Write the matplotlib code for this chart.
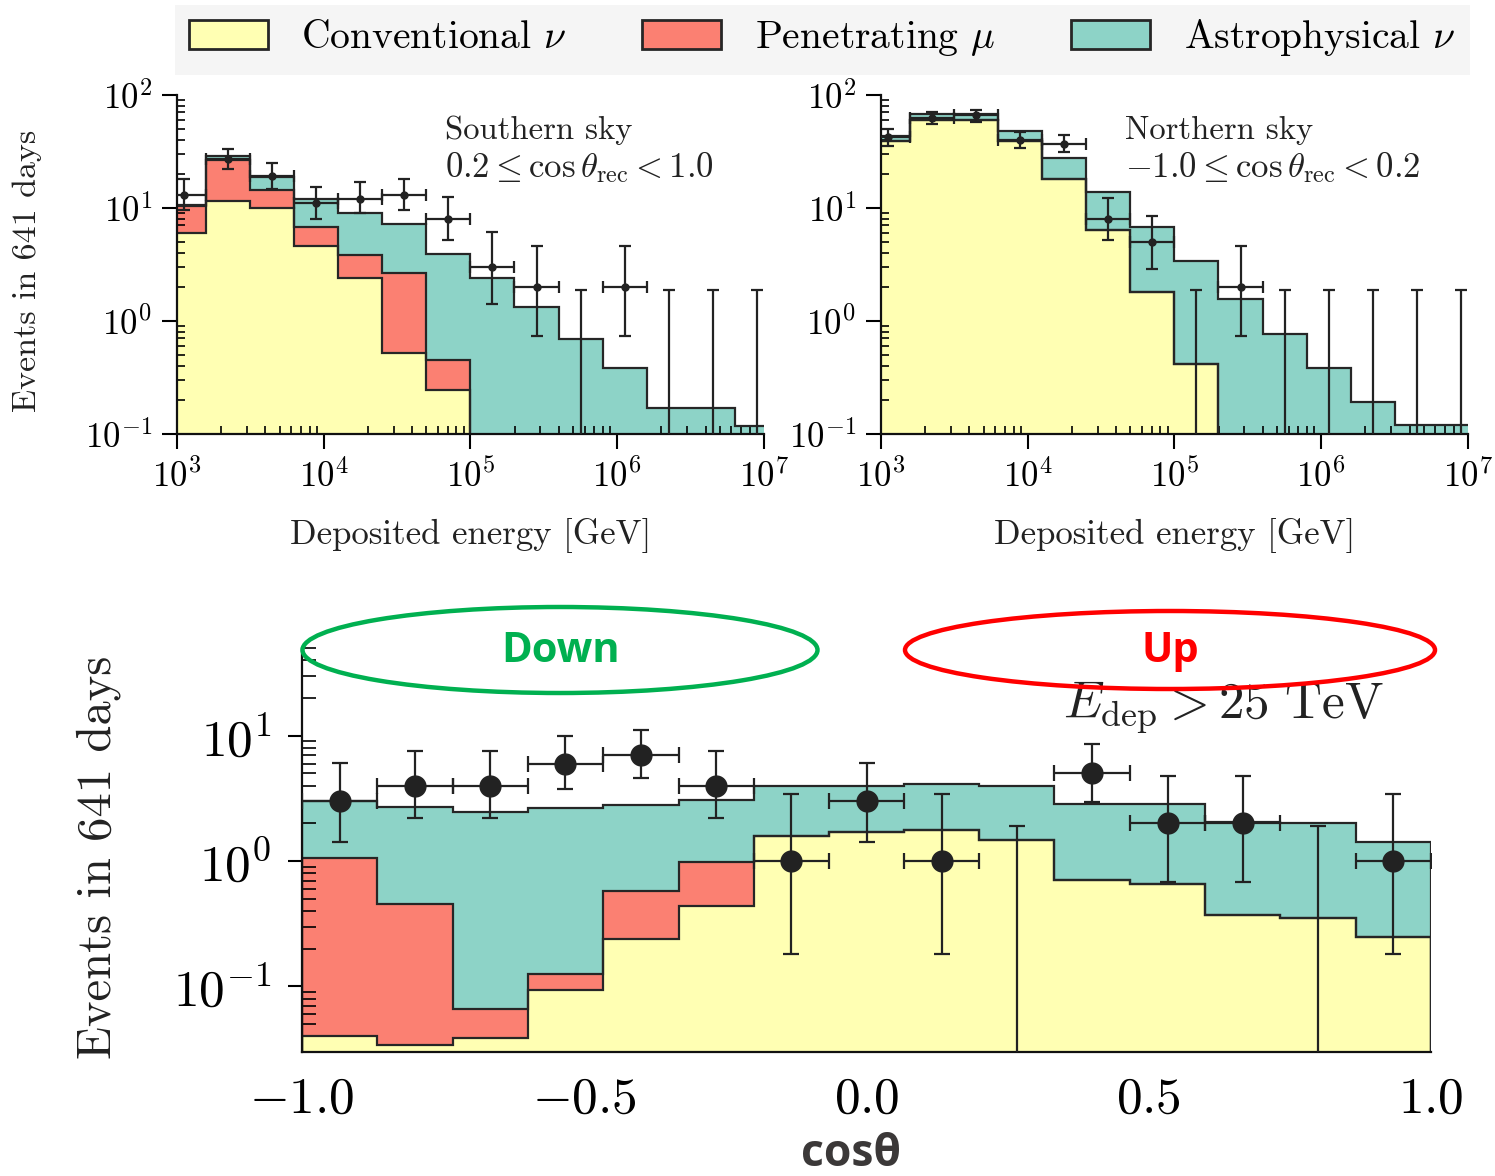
import numpy as np
import matplotlib.pyplot as plt
from matplotlib.patches import Patch, Ellipse, Rectangle
from matplotlib.ticker import LogLocator, FixedLocator, FixedFormatter, NullFormatter

plt.rcParams['font.family'] = 'cmr10'
plt.rcParams['mathtext.fontset'] = 'cm'
plt.rcParams['axes.unicode_minus'] = False
plt.rcParams['axes.formatter.use_mathtext'] = True

C_CONV = '#ffffb3'
C_PEN = '#fb8072'
C_ASTRO = '#8dd3c7'
EDGE = '#262626'

# --- energy panels: log10(E/GeV) bin edges ---
log_edges = [2.9, 3.2, 3.5, 3.8, 4.1, 4.4, 4.7, 5.0, 5.3, 5.6, 5.9, 6.2, 6.5, 6.8, 7.1]

# Southern sky (0.2 <= cos < 1.0)
south_conv = [6.0, 11.6, 10.0, 4.6, 2.41, 0.525, 0.244, 0, 0, 0, 0, 0, 0, 0]
south_pen = [4.4, 14.9, 4.4, 2.2, 1.46, 2.15, 0.21, 0, 0, 0, 0, 0, 0, 0]
south_astro = [0.3, 2.5, 4.4, 5.2, 5.13, 4.53, 3.42, 2.41, 1.33, 0.69, 0.38, 0.168, 0.168, 0.118]
south_obs = [13, 27, 19, 11, 12, 13, 8, 3, 2, 0, 2, 0, 0, 0]
south_lo = [9.5, 22.2, 14.8, 8.0, 9.0, 9.5, 5.15, 1.4, 0.74, 0, 0.74, 0, 0, 0]
south_hi = [18.0, 33.0, 24.9, 15.3, 16.8, 18.0, 12.4, 6.1, 4.6, 1.88, 4.6, 1.88, 1.88, 1.88]

# Northern sky (-1.0 <= cos < 0.2)
north_conv = [39, 60, 60, 39, 18.1, 6.35, 1.82, 0.42, 0, 0, 0, 0, 0, 0]
north_pen = [0, 0, 0, 0, 0, 0, 0, 0, 0, 0, 0, 0, 0, 0]
north_astro = [4.0, 8.0, 8.0, 9.3, 9.7, 7.45, 4.96, 2.96, 1.57, 0.77, 0.38, 0.19, 0.12, 0.12]
north_obs = [42, 63, 66, 40, 37, 8, 5, 0, 2, 0, 0, 0, 0, 0]
north_lo = [35.5, 55.0, 58.0, 34.0, 31.0, 5.2, 2.9, 0, 0.74, 0, 0, 0, 0, 0]
north_hi = [50.0, 71.0, 74.0, 47.0, 44.0, 12.3, 8.4, 1.88, 4.6, 1.88, 1.88, 1.88, 1.88, 1.88]

# --- zenith panel (E_dep > 25 TeV) ---
cos_edges = [-1.0, -0.867, -0.733, -0.6, -0.467, -0.333, -0.2, -0.067,
             0.067, 0.2, 0.333, 0.467, 0.6, 0.733, 0.867, 1.0]
cos_conv = [0.040, 0.034, 0.039, 0.094, 0.238, 0.44, 1.59, 1.72, 1.78, 1.48, 0.71, 0.655, 0.37, 0.355, 0.25]
cos_pen = [1.01, 0.419, 0.027, 0.032, 0.34, 0.55, 0, 0, 0, 0, 0, 0, 0, 0, 0]
cos_astro = [1.99, 2.24, 2.38, 2.51, 2.24, 2.10, 2.41, 2.28, 2.37, 2.52, 2.15, 2.2, 1.69, 1.65, 1.16]
cos_obs = [3, 4, 4, 6, 7, 4, 1, 3, 1, 0, 5, 2, 2, 0, 1]
cos_lo = [1.41, 2.2, 2.2, 3.76, 4.58, 2.2, 0.18, 1.41, 0.18, 0, 2.95, 0.68, 0.68, 0, 0.18]
cos_hi = [6.1, 7.5, 7.5, 10.0, 11.2, 7.5, 3.4, 6.1, 3.4, 1.9, 8.6, 4.8, 4.8, 1.9, 3.4]

FLOOR = 1e-3


def draw_stack(ax, edges, conv, pen, astro):
    conv = np.asarray(conv, float)
    pen = np.asarray(pen, float)
    astro = np.asarray(astro, float)
    levels = [conv, conv + pen, conv + pen + astro]
    colors = [C_CONV, C_PEN, C_ASTRO]
    for top, col in reversed(list(zip(levels, colors))):
        ax.stairs(np.maximum(top, FLOOR), edges, baseline=FLOOR, fill=True,
                  facecolor=col, edgecolor='none', zorder=1)
    for top in levels:
        ax.stairs(np.maximum(top, FLOOR), edges, baseline=FLOOR, color=EDGE,
                  lw=1.6, zorder=2)


def draw_data(ax, centers, xlo, xhi, obs, lo, hi, ms, lw, cap):
    obs = np.asarray(obs, float)
    lo = np.asarray(lo, float)
    hi = np.asarray(hi, float)
    has = obs > 0
    ax.errorbar(centers[has], obs[has], xerr=[xlo[has], xhi[has]],
                yerr=[obs[has] - lo[has], hi[has] - obs[has]], fmt='o',
                color='#222222', ms=ms, lw=lw, capsize=cap, capthick=lw, zorder=4)
    ul = ~has
    ax.errorbar(centers[ul], hi[ul], yerr=[hi[ul] - FLOOR, np.zeros(ul.sum())],
                fmt='none', ecolor='#222222', lw=lw, capsize=cap, capthick=lw, zorder=4)


def style_axes(ax, major_len, minor_len, labelsize, pad):
    for s in ['top', 'right']:
        ax.spines[s].set_visible(False)
    for s in ['left', 'bottom']:
        ax.spines[s].set_linewidth(1.6)
        ax.spines[s].set_color('#111111')
    ax.tick_params(which='major', direction='out', length=major_len, width=1.5,
                   labelsize=labelsize, pad=pad)
    ax.tick_params(which='minor', direction='in', length=minor_len, width=1.2)


fig = plt.figure(figsize=(14.95, 11.76), dpi=100)

le = np.asarray(log_edges)
e_edges = 10 ** le
e_cent = 10 ** (0.5 * (le[:-1] + le[1:]))
e_xlo = e_cent - e_edges[:-1]
e_xhi = e_edges[1:] - e_cent

panels = [
    (0.1184, south_conv, south_pen, south_astro, south_obs, south_lo, south_hi,
     'Southern sky', r'$0.2 \leq \cos\theta_{\rm rec} < 1.0$', 0.457),
    (0.5893, north_conv, north_pen, north_astro, north_obs, north_lo, north_hi,
     'Northern sky', r'$-1.0 \leq \cos\theta_{\rm rec} < 0.2$', 0.416),
]
for left, cv, pn, ast, ob, lo, hi, t1, t2, tx in panels:
    ax = fig.add_axes([left, 0.631, 0.3926, 0.2883])
    ax.set_xscale('log')
    ax.set_yscale('log')
    draw_stack(ax, e_edges, cv, pn, ast)
    draw_data(ax, e_cent, e_xlo, e_xhi, ob, lo, hi, ms=5, lw=1.6, cap=4)
    ax.set_xlim(1e3, 1e7)
    ax.set_ylim(0.1, 100)
    ax.xaxis.set_major_locator(LogLocator(base=10, numticks=10))
    ax.yaxis.set_major_locator(LogLocator(base=10, numticks=10))
    ax.xaxis.set_minor_locator(LogLocator(base=10, subs=np.arange(2, 10), numticks=20))
    ax.yaxis.set_minor_locator(LogLocator(base=10, subs=np.arange(2, 10), numticks=20))
    ax.xaxis.set_minor_formatter(NullFormatter())
    ax.yaxis.set_minor_formatter(NullFormatter())
    style_axes(ax, 11, 6, 25, 7)
    ax.text(tx, 0.895, t1, transform=ax.transAxes, fontsize=23.5, va='center', color='#222222')
    ax.text(tx, 0.785, t2, transform=ax.transAxes, fontsize=25, va='center', color='#222222')
    ax.set_xlabel('Deposited energy [GeV]', fontsize=25, labelpad=17, color='#222222')

fig.text(0.018, 0.770, 'Events in 641 days', rotation=90, fontsize=24.5,
         ha='center', va='center', color='#222222')

# bottom zenith panel
axb = fig.add_axes([0.2020, 0.1054, 0.7552, 0.3435])
axb.set_yscale('log')
ce = np.asarray(cos_edges)
c_cent = 0.5 * (ce[:-1] + ce[1:])
c_half = 0.5 * (ce[1:] - ce[:-1])
draw_stack(axb, ce, cos_conv, cos_pen, cos_astro)
draw_data(axb, c_cent, c_half, c_half, cos_obs, cos_lo, cos_hi, ms=15, lw=1.6, cap=6)
axb.set_xlim(-1.0, 1.0)
axb.set_ylim(0.03, 50)
axb.yaxis.set_major_locator(LogLocator(base=10, numticks=10))
axb.yaxis.set_minor_locator(LogLocator(base=10, subs=np.arange(2, 10), numticks=20))
axb.yaxis.set_minor_formatter(NullFormatter())
axb.xaxis.set_major_locator(FixedLocator([-1.0, -0.5, 0.0, 0.5, 1.0]))
axb.xaxis.set_major_formatter(FixedFormatter([r'$-1.0$', r'$-0.5$', r'$0.0$', r'$0.5$', r'$1.0$']))
style_axes(axb, 10, 10, 37, 12)
axb.tick_params(axis='x', which='major', length=0, pad=18)
axb.text(0.674, 0.852, r'$E_{\rm dep} > 25\ {\rm TeV}$', transform=axb.transAxes,
         fontsize=37, va='center', color='#222222')
fig.text(0.066, 0.271, 'Events in 641 days', rotation=90, fontsize=35,
         ha='center', va='center', color='#222222')
fig.text(851 / 1495, 1 - 1155 / 1176, 'cosθ', fontsize=32, fontweight='bold',
         family=['Open Sans', 'DejaVu Sans'], color='#3b3838', ha='center', va='center')

# Down / Up markers
fig.add_artist(Ellipse((560 / 1495, 1 - 650 / 1176), 515 / 1495, 86 / 1176,
                       transform=fig.transFigure, fill=False, ec='#00b050', lw=3.2))
fig.add_artist(Ellipse((1170 / 1495, 1 - 650 / 1176), 530 / 1495, 78 / 1176,
                       transform=fig.transFigure, fill=False, ec='#ff0000', lw=3.2))
fig.text(561 / 1495, 1 - 652 / 1176, 'Down', fontsize=30, fontweight='bold',
         family=['Open Sans', 'DejaVu Sans'], color='#00b050', ha='center', va='center')
fig.text(1170 / 1495, 1 - 652 / 1176, 'Up', fontsize=30, fontweight='bold',
         family=['Open Sans', 'DejaVu Sans'], color='#ff0000', ha='center', va='center')

# legend strip
fig.add_artist(Rectangle((175 / 1495, 1 - 75 / 1176), 1295 / 1495, 70 / 1176,
                         transform=fig.transFigure, facecolor='#f5f5f5', edgecolor='none'))
handles = [Patch(facecolor=C_CONV, edgecolor=EDGE, lw=2),
           Patch(facecolor=C_PEN, edgecolor=EDGE, lw=2),
           Patch(facecolor=C_ASTRO, edgecolor=EDGE, lw=2)]
labels = [r'Conventional $\nu$', r'Penetrating $\mu$', r'Astrophysical $\nu$']
fig.legend(handles, labels, loc='center', bbox_to_anchor=(822 / 1495, 1 - 38 / 1176),
           ncol=3, frameon=False, fontsize=28.5, handlelength=2.0, handleheight=0.75,
           columnspacing=1.9, handletextpad=0.85)

fig.savefig('out.png', dpi=100)
